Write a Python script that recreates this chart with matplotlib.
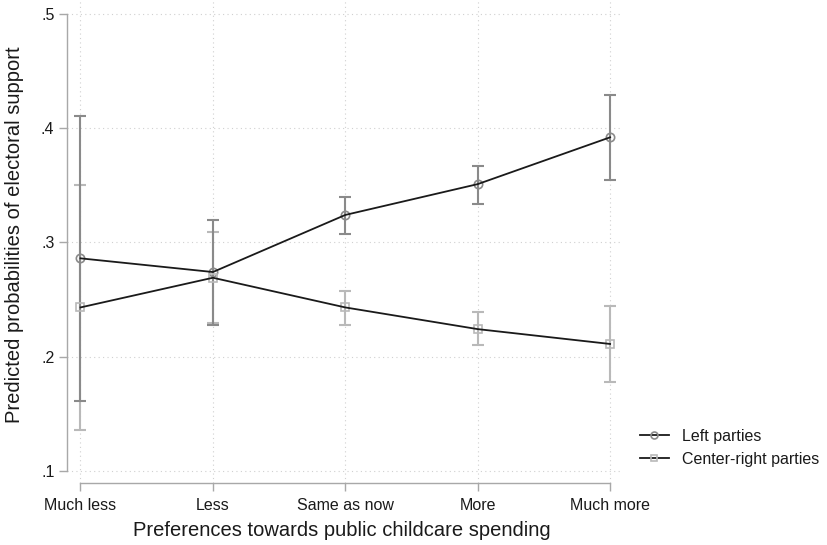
import matplotlib
matplotlib.use("Agg")
import matplotlib.pyplot as plt
from matplotlib.lines import Line2D
import numpy as np

# categories on the x axis
categories = ["Much less", "Less", "Same as now", "More", "Much more"]

# predicted probabilities with 95% CIs
left_mean = [0.286, 0.274, 0.324, 0.351, 0.392]
left_lo = [0.161, 0.228, 0.307, 0.334, 0.355]
left_hi = [0.411, 0.320, 0.340, 0.367, 0.429]

cr_mean = [0.243, 0.269, 0.243, 0.224, 0.211]
cr_lo = [0.136, 0.229, 0.228, 0.210, 0.178]
cr_hi = [0.350, 0.309, 0.257, 0.239, 0.244]

y_ticks = [0.1, 0.2, 0.3, 0.4, 0.5]
y_ticklabels = [".1", ".2", ".3", ".4", ".5"]

LEFT_C = "#8a8a8a"
CR_C = "#b9b9b9"
LINE_C = "#1a1a1a"
TEXT_C = "#1a1a1a"

plt.rcParams['font.family'] = ['Liberation Sans', 'DejaVu Sans']

W, H = 828, 545
fig = plt.figure(figsize=(W / 100, H / 100), dpi=100)
# axes box in pixels: x 67..622, y 0..483
ax = fig.add_axes([67 / W, 1 - 483 / H, (622 - 67) / W, 483 / H])

x = np.arange(len(categories))

def errs(m, lo, hi):
    m, lo, hi = np.array(m), np.array(lo), np.array(hi)
    return np.vstack([m - lo, hi - m])

ax.errorbar(x, cr_mean, yerr=errs(cr_mean, cr_lo, cr_hi), fmt='none',
            ecolor=CR_C, elinewidth=1.5, capsize=4, capthick=1.5, zorder=2)
ax.errorbar(x, left_mean, yerr=errs(left_mean, left_lo, left_hi), fmt='none',
            ecolor=LEFT_C, elinewidth=1.5, capsize=4, capthick=1.5, zorder=3)

ax.plot(x, left_mean, linestyle='none', marker='o', markersize=6,
        markerfacecolor='none', markeredgecolor=LEFT_C, markeredgewidth=1.2, zorder=4)
ax.plot(x, cr_mean, linestyle='none', marker='s', markersize=6,
        markerfacecolor='none', markeredgecolor=CR_C, markeredgewidth=1.2, zorder=4)
ax.plot(x, left_mean, color=LINE_C, linewidth=1.3, zorder=5)
ax.plot(x, cr_mean, color=LINE_C, linewidth=1.3, zorder=5)

# limits chosen so the spines sit where Stata puts them
ax.set_xlim((67 - 80.5) / 132.4, (622 - 80.5) / 132.4)
ppu = 456.7 / 0.4
ax.set_ylim(0.1 - 12.3 / ppu, 0.5 + 14 / ppu)

for y in y_ticks:
    ax.axhline(y, color='#d0d0d0', linestyle=(0, (1, 3)), linewidth=0.8, zorder=0)
for xi in x:
    ax.axvline(xi, color='#d0d0d0', linestyle=(0, (1, 3)), linewidth=0.8, zorder=0)

for s in ['top', 'right']:
    ax.spines[s].set_visible(False)
ax.spines['left'].set_bounds(0.1, 0.5)
ax.spines['bottom'].set_bounds(0, 4)
for s in ['left', 'bottom']:
    ax.spines[s].set_color('#a8a8a8')
    ax.spines[s].set_linewidth(1.0)

ax.set_yticks(y_ticks)
ax.set_yticklabels(y_ticklabels)
ax.set_xticks(x)
ax.set_xticklabels(categories)
ax.tick_params(axis='both', colors='#a8a8a8', labelcolor=TEXT_C, labelsize=11.5,
               length=6, width=1.0)
ax.tick_params(axis='x', pad=5)
ax.tick_params(axis='y', pad=3)

# axis titles placed in figure pixels
fig.text(342 / W, 1 - 531 / H, "Preferences towards public childcare spending",
         fontsize=14.5, color=TEXT_C, ha='center', va='center')
fig.text(15 / W, 1 - 235 / H, "Predicted probabilities of electoral support",
         fontsize=14.5, color=TEXT_C, ha='center', va='center', rotation=90)

handles = [
    Line2D([0], [0], color=LINE_C, linewidth=1.3, marker='o', markersize=5,
           markerfacecolor='none', markeredgecolor=LEFT_C, markeredgewidth=1.2),
    Line2D([0], [0], color=LINE_C, linewidth=1.3, marker='s', markersize=5,
           markerfacecolor='none', markeredgecolor=CR_C, markeredgewidth=1.2),
]
fig.legend(handles, ["Left parties", "Center-right parties"], loc='center left',
           bbox_to_anchor=(640 / W, 1 - 448 / H), frameon=False, fontsize=11.5,
           handlelength=1.8, handletextpad=0.85, labelspacing=0.5, borderpad=0,
           borderaxespad=0, labelcolor=TEXT_C)

fig.savefig("out.png", dpi=100)
